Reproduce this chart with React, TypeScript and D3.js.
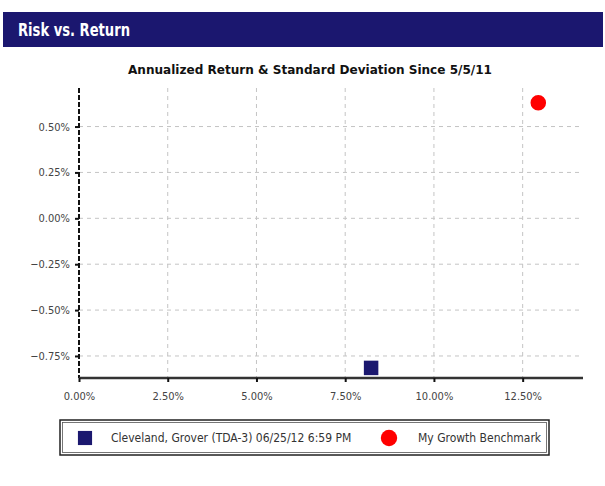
import React, { useEffect, useRef } from 'react'
import * as d3 from 'd3'

// series: [std dev %, annualized return %]
const seriesNames = ['Cleveland, Grover (TDA-3) 06/25/12 6:59 PM', 'My Growth Benchmark']
const seriesRisk = [8.23, 12.94]
const seriesReturn = [-0.815, 0.63]
const seriesShapes = ['square', 'circle']
const seriesColors = ['#1b186f', '#ff0000']

const xTicks = [0, 2.5, 5, 7.5, 10, 12.5]
const yTicks = [-0.75, -0.5, -0.25, 0, 0.25, 0.5]

const headerTitle = 'Risk vs. Return'
const chartTitle = 'Annualized Return & Standard Deviation Since 5/5/11'

const FONT = "'Liberation Sans Narrow', 'DejaVu Sans Condensed', 'Arial Narrow', sans-serif"

export default function App() {
    const ref = useRef<SVGSVGElement>(null)

    useEffect(() => {
        document.body.style.margin = '0'
        const width = 605, height = 486
        const margin = { top: 88, right: 22, bottom: 108, left: 79 }
        const w = width - margin.left - margin.right
        const h = height - margin.top - margin.bottom

        const svg = d3.select(ref.current)
        svg.selectAll('*').remove()

        // header band
        svg.append('rect')
            .attr('x', 3).attr('y', 12)
            .attr('width', 600).attr('height', 35)
            .attr('fill', '#1b176f')
        svg.append('text')
            .attr('x', 18).attr('y', 36)
            .attr('fill', '#fff')
            .attr('textLength', 112)
            .attr('lengthAdjust', 'spacingAndGlyphs')
            .style('font-family', FONT)
            .style('font-weight', 'bold')
            .style('font-size', '17px')
            .text(headerTitle)

        // chart title
        svg.append('text')
            .attr('x', 310).attr('y', 74)
            .attr('text-anchor', 'middle')
            .attr('fill', '#111')
            .attr('textLength', 364)
            .attr('lengthAdjust', 'spacingAndGlyphs')
            .style('font-family', FONT)
            .style('font-weight', 'bold')
            .style('font-size', '13px')
            .text(chartTitle)

        const xScale = d3.scaleLinear().domain([0, 14.2]).range([0, w])
        const yScale = d3.scaleLinear().domain([-0.87, 0.71]).range([h, 0])

        const g = svg.append('g')
            .attr('transform', 'translate(' + margin.left + ',' + margin.top + ')')

        // grid
        g.selectAll('.vgrid')
            .data(xTicks.slice(1))
            .enter().append('line')
            .attr('x1', d => xScale(d)).attr('x2', d => xScale(d))
            .attr('y1', 0).attr('y2', h)
            .attr('stroke', '#c4c4c4')
            .attr('stroke-dasharray', '4,4')
        g.selectAll('.hgrid')
            .data(yTicks)
            .enter().append('line')
            .attr('x1', 0).attr('x2', w - 4)
            .attr('y1', d => yScale(d)).attr('y2', d => yScale(d))
            .attr('stroke', '#c4c4c4')
            .attr('stroke-dasharray', '4,4')

        // y axis
        const yAxis = g.append('g')
            .call(d3.axisLeft(yScale).tickValues(yTicks).tickSize(4)
                .tickFormat(d => d3.format('.2f')(d as number) + '%'))
        yAxis.select('.domain')
            .attr('stroke', '#111').attr('stroke-width', 2)
            .attr('stroke-dasharray', '5,2')
            .attr('d', 'M0,0V' + h)
        yAxis.selectAll('line').attr('stroke', '#111').attr('stroke-width', 2)
        yAxis.selectAll('text')
            .attr('x', -9)
            .attr('fill', '#444')
            .style('font-family', FONT)
            .style('font-size', '11px')

        // x axis
        const xAxis = g.append('g')
            .attr('transform', 'translate(0,' + h + ')')
            .call(d3.axisBottom(xScale).tickValues(xTicks).tickSize(4)
                .tickFormat(d => d3.format('.2f')(d as number) + '%'))
        xAxis.select('.domain')
            .attr('stroke', '#333').attr('stroke-width', 2.5)
            .attr('d', 'M0,0H' + w)
        xAxis.selectAll('line').attr('stroke', '#111').attr('stroke-width', 2)
        xAxis.selectAll('text')
            .attr('y', 14)
            .attr('fill', '#444')
            .style('font-family', FONT)
            .style('font-size', '11px')

        // points
        const data = seriesNames.map((n, i) => ({
            name: n, x: seriesRisk[i], y: seriesReturn[i], shape: seriesShapes[i], color: seriesColors[i]
        }))
        g.selectAll('.dot')
            .data(data)
            .enter().append('path')
            .attr('fill', d => d.color)
            .attr('d', d => d3.symbol()
                .type(d.shape === 'square' ? d3.symbolSquare : d3.symbolCircle)
                .size(d.shape === 'square' ? 210 : 190)())
            .attr('transform', d => 'translate(' + xScale(d.x) + ',' + yScale(d.y) + ')')

        // legend
        const lg = svg.append('g')
        lg.append('rect')
            .attr('x', 60).attr('y', 420).attr('width', 489).attr('height', 35)
            .attr('fill', 'none').attr('stroke', '#222').attr('stroke-width', 1.5)
        lg.append('rect')
            .attr('x', 62.5).attr('y', 422.5).attr('width', 484).attr('height', 30)
            .attr('fill', 'none').attr('stroke', '#555').attr('stroke-width', 0.8)
        const legendX = [85, 389]
        const legendTextX = [111, 418]
        data.forEach((d, i) => {
            lg.append('path')
                .attr('fill', d.color)
                .attr('d', d3.symbol()
                    .type(d.shape === 'square' ? d3.symbolSquare : d3.symbolCircle)
                    .size(d.shape === 'square' ? 200 : 210)())
                .attr('transform', 'translate(' + legendX[i] + ',438)')
            lg.append('text')
                .attr('x', legendTextX[i]).attr('y', 442)
                .attr('fill', '#333')
                .style('font-family', FONT)
                .style('font-size', '12px')
                .text(d.name)
        })
    }, [])

    return (
        <svg ref={ref} width={605} height={486} style={{ display: 'block', background: '#fff' }}></svg>
    )
}
